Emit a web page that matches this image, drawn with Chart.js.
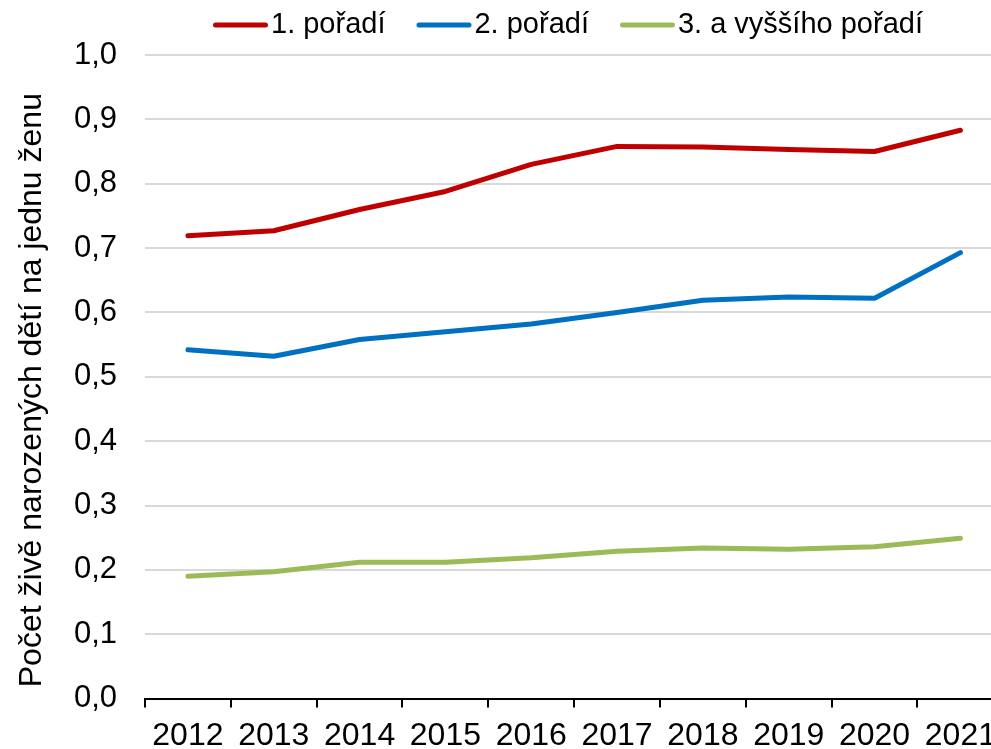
<!DOCTYPE html>
<html>
<head>
<meta charset="utf-8">
<script src="https://cdn.jsdelivr.net/npm/chart.js@4"></script>
<style>
  html, body { margin: 0; padding: 0; background: #fff; overflow: hidden; }
  #wrap { position: relative; width: 1005px; height: 764px; }
</style>
</head>
<body>
<div id="wrap"><canvas id="birthChart"></canvas></div>
<script>
const years = ['2012', '2013', '2014', '2015', '2016', '2017', '2018', '2019', '2020', '2021'];

const firstOrder = [0.719, 0.727, 0.760, 0.788, 0.830, 0.858, 0.857, 0.853, 0.850, 0.883];
const secondOrder = [0.542, 0.532, 0.558, 0.570, 0.582, 0.600, 0.619, 0.624, 0.622, 0.693];
const thirdOrder = [0.190, 0.197, 0.212, 0.212, 0.219, 0.229, 0.234, 0.232, 0.236, 0.249];

const seriesNames = ['1. pořadí', '2. pořadí', '3. a vyššího pořadí'];
const seriesColors = ['#C00000', '#0070C0', '#9BBB59'];

const FONT = "'Liberation Sans', Arial, sans-serif";

// legend drawn by hand so the sample line sits right next to the text
const lineLegend = {
    id: 'lineLegend',
    afterDraw(chart) {
        const c = chart.ctx;
        let x = 213;
        c.save();
        c.font = '29px ' + FONT;
        c.textBaseline = 'middle';
        chart.data.datasets.forEach((ds) => {
            c.strokeStyle = ds.borderColor;
            c.lineWidth = 5;
            c.lineCap = 'round';
            c.beginPath();
            c.moveTo(x + 2.5, 25);
            c.lineTo(x + 52.5, 25);
            c.stroke();
            c.fillStyle = '#000';
            c.fillText(ds.label, x + 58, 25);
            x += 58 + c.measureText(ds.label).width + 31;
        });
        c.restore();
    }
};

const data = {
    labels: years,
    datasets: [firstOrder, secondOrder, thirdOrder].map((values, i) => ({
        label: seriesNames[i],
        data: values,
        borderColor: seriesColors[i],
        backgroundColor: seriesColors[i],
        borderWidth: 5,
        borderCapStyle: 'round',
        borderJoinStyle: 'round',
        pointRadius: 0,
        tension: 0,
        fill: false
    }))
};

const config = {
    type: 'line',
    data: data,
    options: {
        responsive: true,
        maintainAspectRatio: false,
        animation: false,
        layout: {
            padding: { top: 55, left: 0, right: 0, bottom: 0 }
        },
        plugins: {
            legend: { display: false },
            tooltip: { enabled: false }
        },
        scales: {
            x: {
                offset: true,
                grid: {
                    offset: true,
                    drawOnChartArea: false,
                    drawTicks: true,
                    tickLength: 9,
                    color: '#000',
                    lineWidth: 2
                },
                border: { display: true, color: '#000', width: 2 },
                ticks: {
                    color: '#000',
                    padding: 9,
                    maxRotation: 0,
                    font: { family: FONT, size: 32 }
                }
            },
            y: {
                min: 0,
                max: 1,
                afterFit: (scale) => { scale.width = 145; },
                grid: {
                    color: '#D9D9D9',
                    lineWidth: 2,
                    drawTicks: false
                },
                border: { display: false },
                ticks: {
                    stepSize: 0.1,
                    color: '#000',
                    padding: 28,
                    font: { family: FONT, size: 31 },
                    callback: (v) => v.toFixed(1).replace('.', ',')
                },
                title: {
                    display: true,
                    // trailing spaces nudge the centred title a little lower, as in the original
                    text: 'Počet živě narozených dětí na jednu ženu   ',
                    color: '#000',
                    font: { family: FONT, size: 32 },
                    padding: { top: 13, bottom: 0 }
                }
            }
        }
    },
    plugins: [lineLegend]
};

const birthChart = new Chart(document.getElementById('birthChart').getContext('2d'), config);
</script>
</body>
</html>
